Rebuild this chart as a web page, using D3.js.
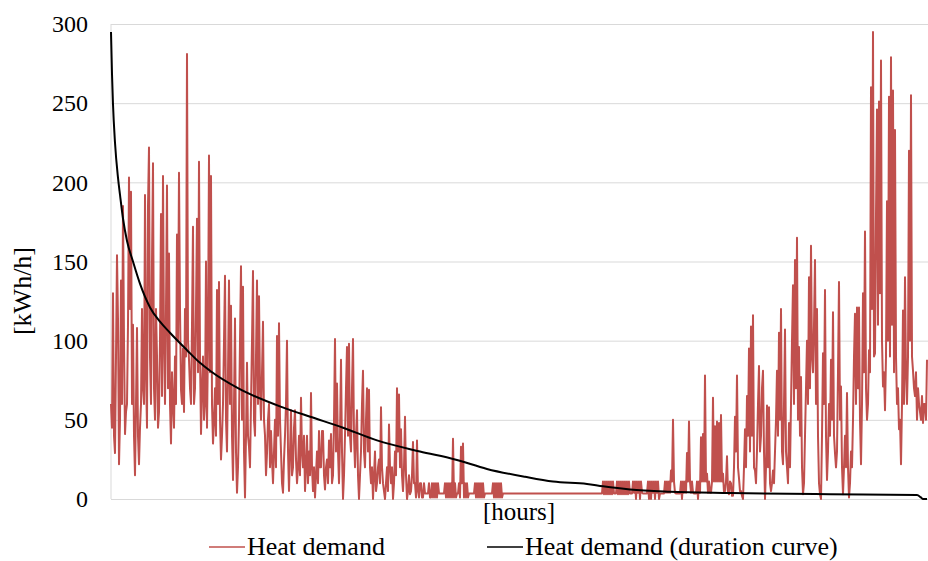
<!DOCTYPE html>
<html><head><meta charset="utf-8">
<script src="https://cdn.jsdelivr.net/npm/d3@7"></script>
<style>
body{margin:0;background:#fff}
svg{display:block}
text{font-family:"Liberation Serif","Times New Roman",serif;fill:#000}
</style>
</head><body>
<svg id="c" width="928" height="561"></svg>
<script>
// ---- data ----
const yTicks = [0, 50, 100, 150, 200, 250, 300];
const yLabel = "[kWh/h]";
const xLabel = "[hours]";
const seriesNames = ["Heat demand", "Heat demand (duration curve)"];
const seriesColors = ["#C0504D", "#000000"];
const totalHours = 8760;

// heat demand over the year (evenly spaced samples)
const heatDemand = [
 60,45,130,40,29,90,154,113,22,50,138,60,185,100,41,55,60,110,203,120,
 194,60,110,40,15,60,108,40,22,45,60,120,70,60,192,80,45,185,222,90,
 60,150,212,70,50,120,90,45,55,100,180,65,204,100,60,120,198,70,155,60,
 35,80,60,45,90,60,167,100,206,120,69,60,95,55,120,90,281,100,88,70,
 60,110,172,60,70,120,177,80,213,90,41,70,90,50,60,150,45,100,217,80,
 204,60,35,50,70,40,132,60,137,50,25,40,60,100,141,50,30,80,138,60,
 122,40,12,60,114,30,4,20,50,100,147,50,134,30,1,40,86,40,33,20,
 60,100,144,50,40,90,138,60,128,70,50,80,112,50,40,15,29,50,60,20,
 43,25,10,30,50,20,103,40,111,50,30,10,4,25,40,60,100,30,5,30,
 56,15,20,45,56,25,10,20,40,15,64,30,20,40,5,20,40,10,30,15,
 67,20,5,20,1,15,30,10,43,20,20,43,43,15,6,20,25,10,37,20,
 41,10,15,50,101,30,73,30,10,40,88,30,0,15,40,70,96,40,98,40,
 30,70,101,40,20,40,56,15,0,15,30,60,81,30,20,50,70,30,69,20,
 10,20,0,15,30,5,10,20,25,10,58,20,10,5,0,10,20,5,47,20,
 10,20,0,10,30,15,70,30,66,20,44,15,5,20,52,15,0,5,15,3,
 5,15,36,10,10,1,37,5,1,10,10,1,1,10,3.5,3.5,3.5,3.5,10,1,
 1,10,1,10,1,10,1,10,3.5,3.5,3.5,3.5,3.5,3.5,10,1,10,1,10,1,
 10,1,38,1,10,1,3.5,3.5,10,1,33,10,35,1,10,1,10,1,3.5,3.5,
 3.5,3.5,3.5,3.5,10,1,10,1,10,1,10,1,10,1,3.5,3.5,3.5,3.5,3.5,3.5,
 3.5,3.5,10,1,10,1,10,1,10,1,10,1,3.5,3.5,3.5,3.5,3.5,3.5,3.5,3.5,
 3.5,3.5,3.5,3.5,3.5,3.5,3.5,3.5,3.5,3.5,3.5,3.5,3.5,3.5,3.5,3.5,3.5,3.5,3.5,3.5,
 3.5,3.5,3.5,3.5,3.5,3.5,3.5,3.5,3.5,3.5,3.5,3.5,3.5,3.5,3.5,3.5,3.5,3.5,3.5,3.5,
 3.5,3.5,3.5,3.5,3.5,3.5,3.5,3.5,3.5,3.5,3.5,3.5,3.5,3.5,3.5,3.5,3.5,3.5,3.5,3.5,
 3.5,3.5,3.5,3.5,3.5,3.5,3.5,3.5,3.5,3.5,3.5,3.5,3.5,3.5,3.5,3.5,3.5,3.5,3.5,3.5,
 3.5,3.5,3.5,3.5,3.5,3.5,3.5,3.5,3.5,3.5,3.5,3.5,11,3,11,3,11,3,11,3,
 11,3,11,3.5,3.5,3.5,11,3,11,3,11,3,11,3,11,3,11,3,11,3.5,
 3.5,3.5,11,4,11,0,11,4,11,0,11,4,3.5,3.5,3.5,3.5,3.5,11,0,11,
 0,11,4,11,0,11,4,11,0,3.5,3.5,3.5,3.5,3.5,11,4,11,4,11,4,
 18,11,50,11,4,3.5,3.5,3.5,3.5,3.5,11,0,11,4,11,4,29,11,49,11,
 4,11,4,3.5,3.5,3.5,11,0,11,4,39,11,41,11,78,11,16,4,11,4,
 4,11,64,11,46,11,49,11,48,11,53,11,16,4,5,11,27,4,3,11,
 10,2,2,20,52,30,78,20,13,5,5,2,0,20,44,20,65,40,95,30,
 109,40,116,20,18,10,31,60,84,30,40,70,81,30,0,20,59,20,58,10,
 5,10,18,10,30,50,81,40,105,50,120,30,22,60,107,30,20,10,48,20,
 60,100,135,60,151,70,165,50,96,40,77,20,3,10,40,70,100,60,140,70,
 160,90,80,110,151,60,120,40,10,3,0,40,92,60,132,40,12,30,60,40,
 88,50,118,40,29,20,30,80,137,50,71,20,3,20,40,20,67,20,1,10,
 30,20,50,90,117,60,121,70,121,50,22,60,130,80,169,70,50,60,94,80,
 260,120,295,90,92,180,246,110,251,130,277,100,71,80,56,90,188,100,254,90,
 279,110,258,80,233,90,60,70,44,50,22,60,119,60,140,80,60,90,220,100,
 255,90,81,70,65,80,50,70,60,55,50,65,48,60,60,50,88
];

// duration curve (sorted demand): hours and values
const durationHours = [0,11,21,43,75,97,129,172,236,311,419,526,633,816,955,1063,1363,1836,2190,2491,2856,3317,3693,4036,4444,4745,5110,5282,5572,6001,6645,7719,8652,8695,8717,8760];
const durationValues = [295,268,250,225,203,192,177,163,150,136,121,112,105,94,86,81,70,58,51,45,37,30,25,19,14,11,9.5,8,6,4.6,3.8,3,2.5,1,0,0];

// ---- chart ----
const svg = d3.select("#c");
const plotL = 111, plotR = 927, plotT = 24, plotB = 499;
const x = d3.scaleLinear().domain([0, totalHours]).range([plotL, plotR]);
const y = d3.scaleLinear().domain([0, 300]).range([plotB, plotT]);

// grid + y axis
const yAxis = d3.axisLeft(y).tickValues(yTicks).tickSize(-(928 - plotL)).tickPadding(23).tickFormat(d3.format("d"));
const gy = svg.append("g").attr("transform", `translate(${plotL},0)`).call(yAxis);
gy.select(".domain").remove();
gy.selectAll(".tick line").attr("stroke", "#d9d9d9").attr("stroke-width", 1);
gy.selectAll(".tick text").attr("font-size", 24).attr("font-family", '"Liberation Serif",serif').attr("fill", "#000");

// left axis line
svg.append("line").attr("x1", plotL).attr("x2", plotL).attr("y1", y(300)).attr("y2", y(0))
  .attr("stroke", "#d9d9d9").attr("stroke-width", 1);

// heat demand series
const step = totalHours / (heatDemand.length - 1);
const line1 = d3.line().x((d, i) => x(i * step)).y(d => y(d));
svg.append("path").datum(heatDemand).attr("d", line1)
  .attr("fill", "none").attr("stroke", seriesColors[0]).attr("stroke-width", 2)
  .attr("stroke-linejoin", "round");

// duration curve
const line2 = d3.line().x((d, i) => x(durationHours[i])).y(d => y(d)).curve(d3.curveMonotoneX);
svg.append("path").datum(durationValues).attr("d", line2)
  .attr("fill", "none").attr("stroke", seriesColors[1]).attr("stroke-width", 2);

// axis titles
svg.append("text").attr("x", (plotL + plotR) / 2).attr("y", 520).attr("text-anchor", "middle")
  .attr("font-size", 25).text(xLabel);
svg.append("text").attr("transform", "translate(31,291) rotate(-90)").attr("text-anchor", "middle")
  .attr("font-size", 26).text(yLabel);

// legend
const legendX = [209, 487];
seriesNames.forEach((n, i) => {
  const g = svg.append("g").attr("transform", `translate(${legendX[i]},547)`);
  g.append("line").attr("x1", 0).attr("x2", 36).attr("y1", 0).attr("y2", 0)
    .attr("stroke", seriesColors[i]).attr("stroke-width", 1.5);
  g.append("text").attr("x", 38).attr("y", 8).attr("font-size", 26).text(n);
});
</script>
</body></html>
